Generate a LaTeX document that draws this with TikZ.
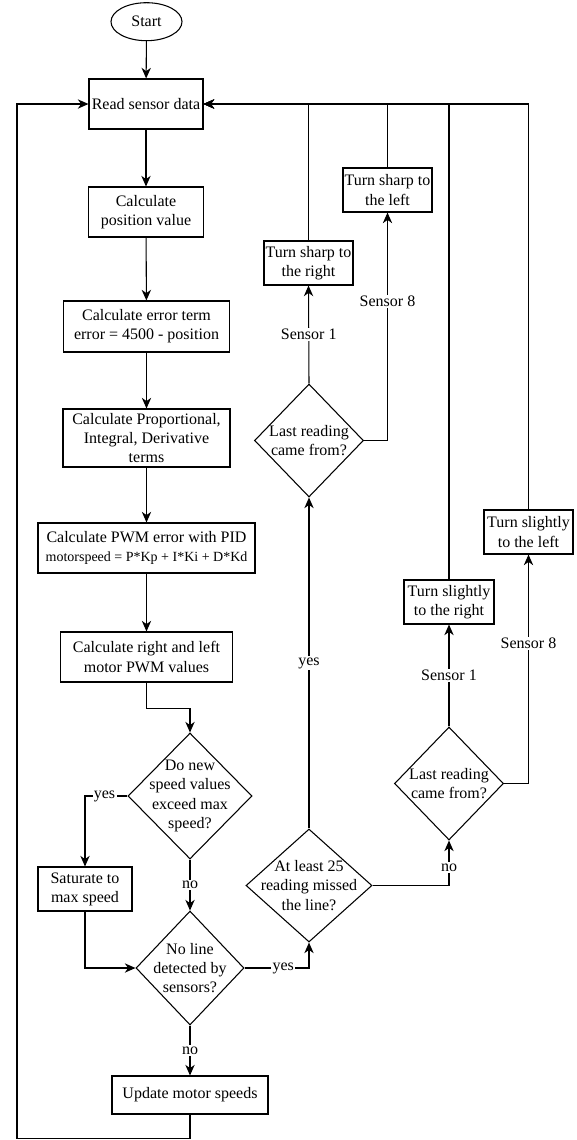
\documentclass[tikz,border=0pt]{standalone}
\usepackage{fontspec}
\setmainfont{Liberation Serif}
\usetikzlibrary{shapes.geometric,arrows.meta,calc}
\newcommand\mfs{\fontsize{12pt}{14.4pt}\selectfont}
\newcommand\sfs{\fontsize{10.5pt}{12.6pt}\selectfont}
\begin{document}
\begin{tikzpicture}[x=0.75pt,y=-0.75pt,
  sz/.style 2 args={minimum width=#1*0.75pt, minimum height=#2*0.75pt},
  box/.style={draw, rectangle, line width=0.8pt, align=center, inner sep=0pt, font=\mfs},
  ell/.style={draw, ellipse, line width=0.8pt, inner sep=0pt, font=\mfs},
  dia/.style={draw, diamond, line width=0.8pt, inner sep=0pt},
  dtxt/.style={align=center, font=\mfs, inner sep=0pt},
  lbl/.style={fill=white, inner sep=1pt, font=\mfs},
  arr/.style={line width=0.8pt, -{Stealth[length=8pt,width=7pt,inset=2.5pt]}},
  ln/.style={line width=0.8pt}]
\useasboundingbox (0,0) rectangle (576,1140);

% main column
\node[ell, sz={71}{38}] (start) at (146.5,21.7) {Start};
\node[box, sz={114}{50}] (read) at (146,104) {Read sensor data};
\node[box, sz={115}{50}] (pos) at (146,212) {Calculate\\position value};
\node[box, sz={166}{51}] (err) at (146.5,326.5) {Calculate error term\\error = 4500 - position};
\node[box, sz={167}{58}] (pid) at (146.5,438) {Calculate Proportional,\\Integral, Derivative\\terms};
\node[box, sz={217}{50}] (pwm) at (146.5,548) {Calculate PWM error with PID\\{\sfs motorspeed = P*Kp + I*Ki + D*Kd}};
\node[box, sz={172}{50}] (lr) at (146.5,657) {Calculate right and left\\motor PWM values};
\node[dia, sz={124}{126}, label={[dtxt]center:{Do new\\speed values\\exceed max\\speed?}}] (dnew) at (190,796) {};
\node[box, sz={94}{44}] (sat) at (85,889) {Saturate to\\max speed};
\node[dia, sz={108}{114}, label={[dtxt]center:{No line\\detected by\\sensors?}}] (noline) at (190,968) {};
\node[box, sz={156}{38}] (upd) at (190,1095) {Update motor speeds};

% right side
\node[dia, sz={126}{113}, label={[dtxt]center:{At least 25\\reading missed\\the line?}}] (atl) at (309,885.5) {};
\node[dia, sz={109}{113}, label={[dtxt]center:{Last reading\\came from?}}] (last1) at (309,440.5) {};
\node[box, sz={89}{44}] (tsr) at (308.5,263) {Turn sharp to\\the right};
\node[box, sz={89}{44}] (tsl) at (387.5,190) {Turn sharp to\\the left};
\node[dia, sz={109}{113}, label={[dtxt]center:{Last reading\\came from?}}] (last2) at (449,783.5) {};
\node[box, sz={90}{44}] (tslr) at (449,602) {Turn slightly\\to the right};
\node[box, sz={89}{44}] (tsll) at (528.5,532) {Turn slightly\\to the left};

\coordinate (lb) at (17,1138.5);

% connectors
\draw[arr] (start) -- (read);
\draw[arr] (read) -- (pos);
\draw[arr] (pos) -- (err);
\draw[arr] (err) -- (pid);
\draw[arr] (pid) -- (pwm);
\draw[arr] (pwm) -- (lr);
\draw[arr] (lr.south) -- ++(0,26) -| (dnew.north);
\draw[arr] (dnew.west) -| node[lbl, pos=0.27]{yes} (sat.north);
\draw[arr] (dnew.south) -- node[lbl]{no} (noline.north);
\draw[arr] (sat.south) |- (noline.west);
\draw[arr] (noline.south) -- node[lbl]{no} (upd.north);
\draw[arr] (noline.east) -| node[lbl, pos=0.3]{yes} (atl.south);
\draw[arr] (atl.north) -- node[lbl]{yes} (last1.south);
\draw[arr] (atl.east) -| node[lbl, pos=0.7]{no} (last2.south);
\draw[arr] (last1.north) -- node[lbl]{Sensor 1} (tsr.south);
\draw[arr] (last1.east) -| node[lbl, pos=0.805]{Sensor 8} (tsl.south);
\draw[arr] (last2.north) -- node[lbl]{Sensor 1} (tslr.south);
\draw[arr] (last2.east) -| node[lbl, pos=0.806]{Sensor 8} (tsll.south);
\draw[arr] (tsr.north) |- (read.east);
\draw[arr] (tsl.north) |- (read.east);
\draw[arr] (tslr.north) |- (read.east);
\draw[arr] (tsll.north) |- (read.east);
\draw[arr] (upd.south) |- (lb) |- (read.west);
\end{tikzpicture}
\end{document}
